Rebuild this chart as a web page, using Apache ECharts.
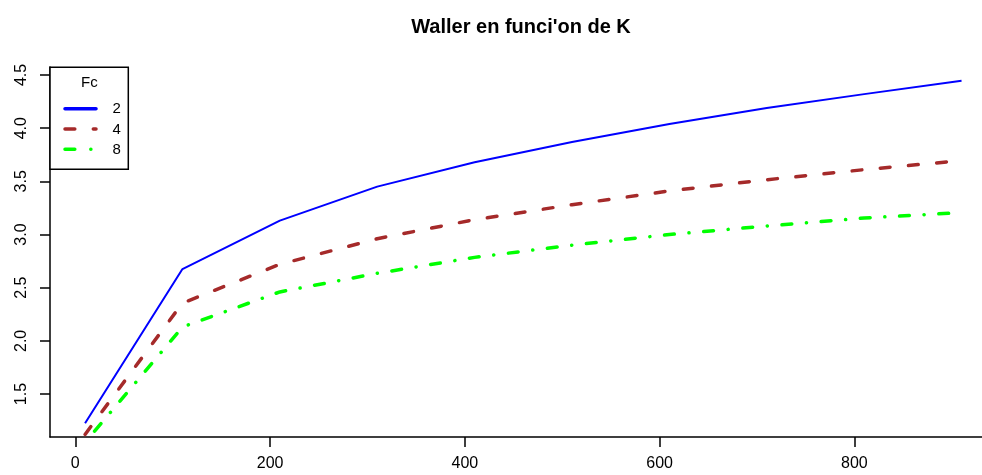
<!DOCTYPE html>
<html>
<head>
<meta charset="utf-8">
<script src="https://cdn.jsdelivr.net/npm/echarts@6/dist/echarts.min.js"></script>
<style>
html,body{margin:0;padding:0;background:#fff;}
#chart{width:982px;height:475px;}
</style>
</head>
<body>
<div id="chart"></div>
<script>
// ---- data ----
const K = [10, 110, 210, 310, 410, 510, 610, 710, 810, 910];
const Fc2 = [1.225, 2.675, 3.13, 3.45, 3.68, 3.87, 4.04, 4.19, 4.32, 4.446];
const Fc4 = [1.12, 2.355, 2.72, 2.96, 3.14, 3.28, 3.41, 3.515, 3.61, 3.695];
const Fc8 = [1.045, 2.13, 2.46, 2.635, 2.785, 2.90, 3.00, 3.08, 3.155, 3.206];
const xTicks = [0, 200, 400, 600, 800];
const yTicks = [1.5, 2.0, 2.5, 3.0, 3.5, 4.0, 4.5];
const legendNames = ['2', '4', '8'];
const titleText = "Waller en funci'on de K";
const legendTitle = 'Fc';

const FONT = '"Liberation Sans", Arial, Helvetica, sans-serif';
const pairs = (ys) => K.map((k, i) => [k, ys[i]]);

const chart = echarts.init(document.getElementById('chart'), null, {renderer: 'canvas'});

const styles = [
  {color: '#0000ff', width: 2, type: 'solid', cap: 'butt'},
  {color: '#a52a2a', width: 3.5, type: [9.8, 18.5], cap: 'round'},
  {color: '#00ff00', width: 3.5, type: [0.1, 14.7, 9.8, 14.7], cap: 'round'}
];
const seriesData = [Fc2, Fc4, Fc8];

const legendKeyDash = [null, [9.8, 18.5], [9.8, 16, 0.1, 20]];
const legendYs = [108.7, 129, 149.3];

const graphics = [
  {type: 'text', x: 521, y: 27, z: 100,
   style: {text: titleText, font: 'bold 20px ' + FONT, fill: '#000', textAlign: 'center', textVerticalAlign: 'middle'}},
  {type: 'rect', x: 50, y: 67.3, z: 100,
   shape: {width: 78.3, height: 102},
   style: {fill: '#fff', stroke: '#000', lineWidth: 1.5}},
  {type: 'text', x: 89.3, y: 83, z: 101,
   style: {text: legendTitle, font: '15px ' + FONT, fill: '#000', textAlign: 'center', textVerticalAlign: 'middle'}}
];
legendNames.forEach((n, i) => {
  graphics.push({type: 'line', z: 101,
    shape: {x1: 65, y1: legendYs[i], x2: 96, y2: legendYs[i]},
    style: {stroke: styles[i].color, lineWidth: 3.5, lineCap: 'round',
            lineDash: legendKeyDash[i] || null}});
  graphics.push({type: 'text', x: 112.5, y: legendYs[i] + 0.5, z: 101,
    style: {text: n, font: '15px ' + FONT, fill: '#000', textAlign: 'left', textVerticalAlign: 'middle'}});
});

const option = {
  animation: false,
  backgroundColor: '#fff',
  grid: {left: 50, right: 0, top: 67, bottom: 38, containLabel: false},
  xAxis: {
    type: 'value', min: -26, max: 931,
    axisLine: {show: true, onZero: false, lineStyle: {color: '#000', width: 1.5}},
    axisTick: {show: true, length: 10, customValues: xTicks, lineStyle: {color: '#000', width: 1.5}},
    axisLabel: {show: true, customValues: xTicks, margin: 19, color: '#000',
      fontSize: 16, fontFamily: FONT, formatter: v => String(v)},
    splitLine: {show: false}
  },
  yAxis: {
    type: 'value', min: 1.096, max: 4.575,
    axisLine: {show: true, onZero: false, lineStyle: {color: '#000', width: 1.5}},
    axisTick: {show: true, length: 10, customValues: yTicks, lineStyle: {color: '#000', width: 1.5}},
    axisLabel: {show: true, customValues: yTicks, rotate: 90, margin: 20, color: '#000',
      fontSize: 16, fontFamily: FONT, formatter: v => v.toFixed(1)},
    splitLine: {show: false}
  },
  series: seriesData.map((d, i) => ({
    type: 'line', name: legendNames[i], data: pairs(d),
    symbol: 'none', showSymbol: false, clip: true, silent: true,
    lineStyle: {color: styles[i].color, width: styles[i].width, type: styles[i].type, cap: styles[i].cap, join: 'round'},
    z: 10 - i
  })),
  graphic: graphics
};
chart.setOption(option);
</script>
</body>
</html>
